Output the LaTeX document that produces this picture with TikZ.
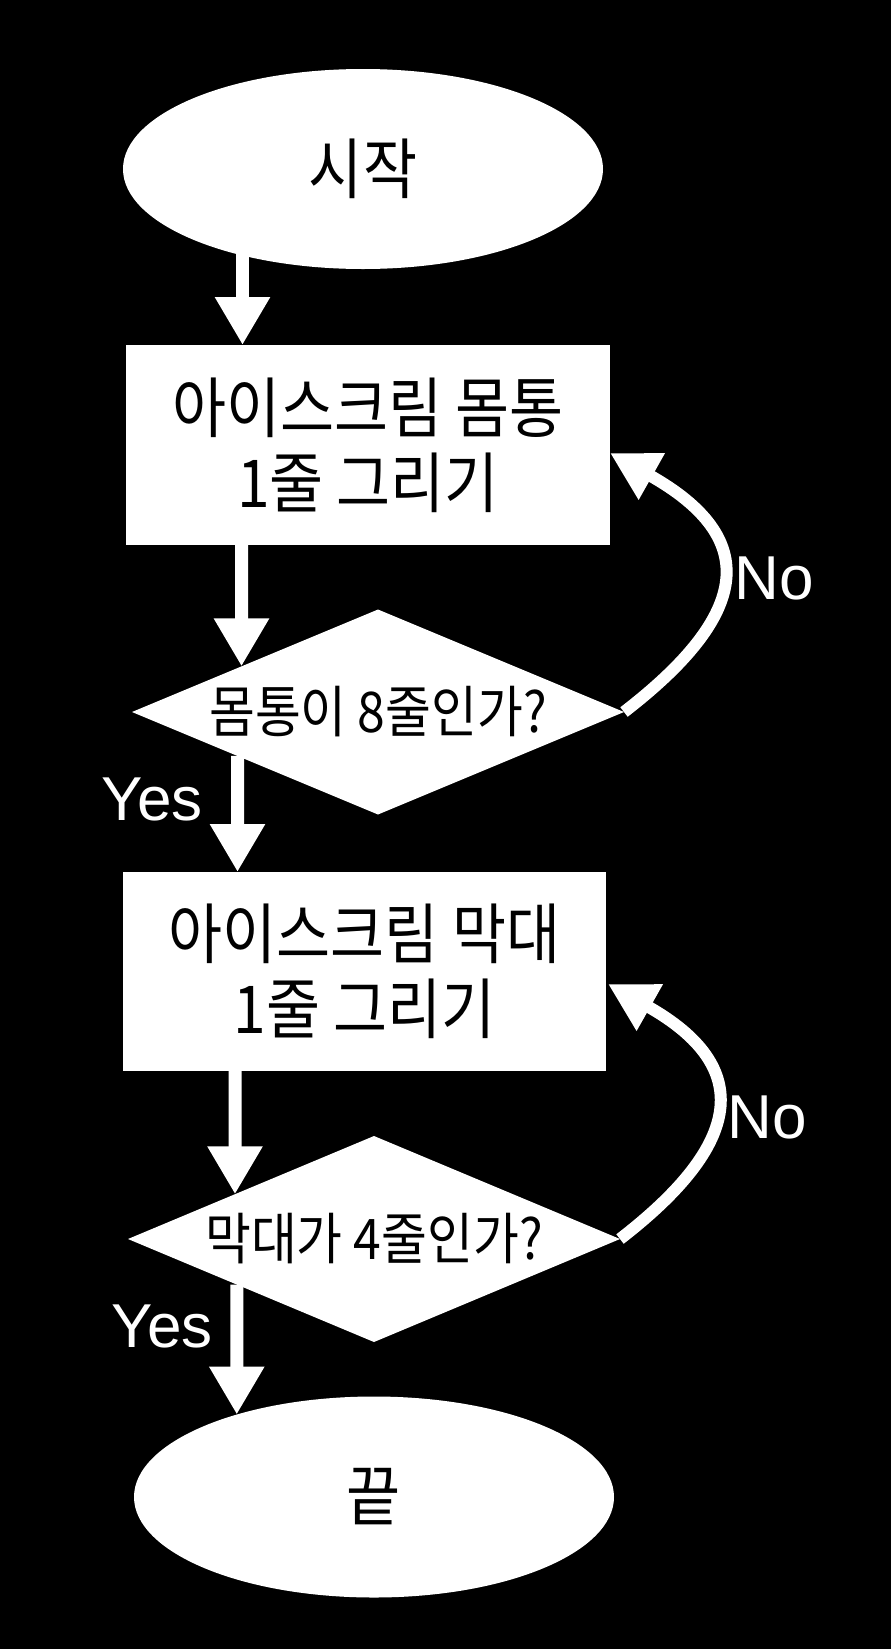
\documentclass[tikz,border=0pt]{standalone}
\usepackage{fontspec}
\setmainfont{Liberation Sans}
\newfontfamily\kr[FakeStretch=0.89]{Noto Sans CJK KR}
\usetikzlibrary{shapes.geometric,arrows.meta,calc}
\begin{document}
\begin{tikzpicture}[x=1pt,y=1pt,
  every node/.style={inner sep=0pt, outer sep=0pt},
  term/.style={ellipse, fill=white, minimum width=480pt, minimum height=200pt, font=\kr\fontsize{66}{75}\selectfont},
  procbox/.style={rectangle, fill=white, minimum width=484pt, minimum height=200pt, align=center, font=\kr\fontsize{66}{75}\selectfont},
  decide/.style={diamond, aspect=2.4, fill=white, minimum width=492pt, minimum height=205pt, font=\kr\fontsize{56}{60}\selectfont},
  lbl/.style={text=white, font=\fontsize{62}{70}\selectfont, anchor=base},
  arr/.style={draw=white, line width=13pt, -{Triangle[length=48pt,width=52pt]}},
  loopa/.style={draw=white, line width=12pt, -{Triangle[length=48pt,width=50pt]}}
]
\fill[black] (0,0) rectangle (891,-1649);
\useasboundingbox (0,0) rectangle (891,-1649);

\node[term] (start) at (363,-169) {시작};
\node[procbox] (box1) at (368,-445) {아이스크림 몸통\\1줄 그리기};
\node[decide] (d1) at (378,-712) {몸통이 8줄인가?};
\node[procbox, minimum width=483pt, minimum height=199pt] (box2) at (364.5,-971.5) {아이스크림 막대\\1줄 그리기};
\node[decide, minimum height=206pt] (d2) at (374,-1239) {막대가 4줄인가?};
\node[term, minimum height=201pt] (finish) at (374,-1497) {끝};

% column coordinates
\coordinate (x1) at (242.5,0);
\coordinate (x2) at (241.5,0);
\coordinate (x3) at (237.5,0);
\coordinate (x4) at (235,0);

% start -> box1
\draw[arr] (start.center -| x1) -- (box1.north -| x1);
% box1 -> d1
\coordinate (a2) at (box1.south -| x2);
\coordinate (b2) at (d1.center -| x2);
\draw[arr] (a2) -- (intersection of d1.west--d1.north and a2--b2);
% d1 -> box2
\coordinate (a3) at (d1.center -| x3);
\coordinate (b3) at (box2.north -| x3);
\draw[arr] (intersection of d1.west--d1.south and a3--b3) -- (b3);
% box2 -> d2
\coordinate (a4) at (box2.south -| x4);
\coordinate (b4) at (d2.center -| x4);
\draw[arr] (a4) -- (intersection of d2.west--d2.north and a4--b4);
% d2 -> finish
\coordinate (t5) at (finish.149.6);
\coordinate (t5u) at ($(t5)+(0,300)$);
\draw[arr] (intersection of d2.west--d2.south and t5--t5u) -- (t5);

% loops
\coordinate (tip1) at ($(box1.east)+(0,-8)$);
\draw[loopa] (d1.east) .. controls +(127,98) and +(151,-85) .. (tip1);
\coordinate (tip2) at ($(box2.east)+(2,-12.5)$);
\draw[loopa] (d2.east) .. controls +(123,95) and +(147,-83) .. (tip2);

% labels
\node[lbl] (no1) at (774,-599) {No};
\node[lbl] (no2) at (767,-1138) {No};
\node[lbl] (yes1) at (152,-820) {Yes};
\node[lbl] (yes2) at (162,-1347) {Yes};
\end{tikzpicture}
\end{document}
